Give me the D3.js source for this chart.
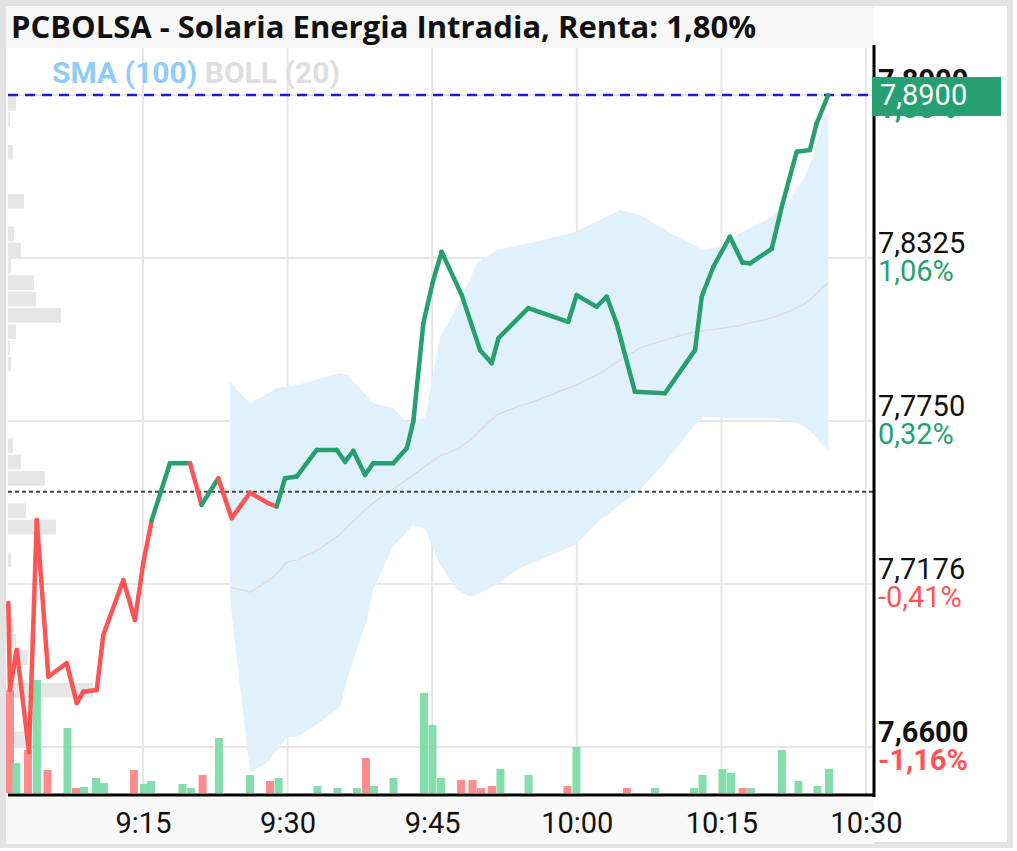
<!DOCTYPE html>
<html>
<head>
<meta charset="utf-8">
<script src="https://cdn.jsdelivr.net/npm/d3@7"></script>
<style>
  body { margin: 0; background: #fff; }
  svg { display: block; }
</style>
</head>
<body>
<script>
// intraday price ticks
const priceTimes = ["9:01:02","9:01:12","9:01:54","9:03:11","9:03:59","9:05:11","9:07:05","9:08:08","9:08:49","9:10:12",
  "9:10:53","9:12:58","9:14:10","9:15:02","9:15:55","9:17:48","9:19:53","9:21:05","9:22:49","9:24:12",
  "9:26:06","9:28:00","9:28:52","9:29:44","9:30:57","9:33:01","9:35:06","9:35:58","9:36:49","9:38:02",
  "9:38:53","9:40:58","9:42:22","9:43:03","9:44:05","9:45:07","9:45:59","9:48:04","9:49:58","9:51:11",
  "9:51:52","9:54:58","9:59:07","9:59:59","10:02:04","10:03:06","10:04:08","10:06:02","10:09:09","10:12:16",
  "10:12:58","10:14:10","10:15:53","10:17:11","10:17:58","10:20:13","10:21:16","10:22:49","10:24:11","10:24:53",
  "10:26:05"];
const prices = [7.7108,7.6801,7.6942,7.6582,7.7401,7.6848,7.6896,7.6755,7.6795,7.6801,
  7.6995,7.7189,7.7048,7.7249,7.7401,7.7601,7.7601,7.7454,7.7548,7.7407,
  7.7497,7.7460,7.7448,7.7548,7.7554,7.7648,7.7648,7.7606,7.7645,7.7560,
  7.7601,7.7601,7.7654,7.7748,7.8095,7.8247,7.8347,7.8194,7.8000,7.7954,
  7.8042,7.8148,7.8100,7.8194,7.8153,7.8189,7.8095,7.7853,7.7848,7.8000,
  7.8189,7.8294,7.8400,7.8309,7.8306,7.8357,7.8506,7.8700,7.8706,7.8800,
  7.8900];

// bollinger (20)
const bollTimes = ["9:24:02","9:26:06","9:27:52","9:28:54","9:29:56","9:30:59","9:33:22","9:35:26","9:36:16","9:38:14",
  "9:38:52","9:40:56","9:42:23","9:43:01","9:44:16","9:45:49","9:47:35","9:48:56","9:49:39","9:51:44",
  "9:54:07","9:55:28","9:59:49","10:02:25","10:04:29","10:06:34","10:09:22","10:12:04","10:13:06","10:14:52",
  "10:16:56","10:20:22","10:22:07","10:23:28","10:24:31","10:25:40","10:26:05"];
const bollUpper = [7.7888,7.7813,7.7845,7.7866,7.7872,7.7877,7.7900,7.7919,7.7912,7.7837,
  7.7813,7.7796,7.7746,7.7752,7.7764,7.8046,7.8152,7.8253,7.8307,7.8353,
  7.8371,7.8381,7.8418,7.8459,7.8494,7.8477,7.8420,7.8372,7.8353,7.8364,
  7.8413,7.8473,7.8530,7.8600,7.8681,7.8822,7.8837];
const bollMiddle = [7.7164,7.7147,7.7183,7.7212,7.7253,7.7260,7.7300,7.7349,7.7378,7.7442,
  7.7460,7.7511,7.7542,7.7558,7.7591,7.7627,7.7650,7.7682,7.7705,7.7772,
  7.7804,7.7818,7.7875,7.7918,7.7965,7.8008,7.8038,7.8063,7.8068,7.8076,
  7.8087,7.8115,7.8138,7.8160,7.8187,7.8226,7.8237];
const bollLower = [7.7119,7.6512,7.6544,7.6587,7.6635,7.6635,7.6688,7.6741,7.6847,7.7048,
  7.7154,7.7306,7.7360,7.7383,7.7368,7.7241,7.7156,7.7129,7.7138,7.7172,
  7.7231,7.7250,7.7313,7.7401,7.7454,7.7507,7.7612,7.7729,7.7764,7.7762,
  7.7761,7.7761,7.7752,7.7734,7.7703,7.7660,7.7648];

// volume per trade
const volTimes = ["9:01:12","9:01:52","9:03:04","9:04:00","9:05:06","9:07:10","9:08:03","9:08:53","9:10:08","9:10:57",
  "9:14:04","9:15:06","9:15:50","9:19:06","9:19:59","9:21:11","9:22:53","9:26:06","9:28:11","9:29:04",
  "9:33:06","9:35:11","9:37:12","9:38:08","9:38:58","9:40:59","9:44:09","9:45:02","9:45:55","9:48:00",
  "9:49:11","9:50:04","9:51:12","9:52:05","9:55:00","9:59:02","9:59:58","10:05:13","10:08:07","10:12:10",
  "10:13:03","10:15:07","10:16:00","10:17:12","10:18:04","10:21:17","10:23:00","10:24:58","10:26:10"];
const volumes = [10300,3000,4300,11300,2300,6500,500,600,1500,1000,
  2300,900,1200,900,500,1800,5500,1800,1200,1500,
  700,500,500,3500,700,1500,10000,6800,1500,1300,
  1300,500,700,2400,1800,700,4600,500,500,500,
  1800,2400,2000,500,500,4300,1200,700,2400];
const volUp = [0,1,0,1,0,1,0,1,1,1,
  0,1,1,1,1,0,1,1,0,1,
  1,1,1,0,1,1,1,1,1,0,
  0,0,0,1,1,0,1,0,1,1,
  1,1,1,0,1,1,1,1,1];

// volume by price (bin top price)
const profilePrices = [7.89,7.88425,7.87275,7.8555,7.844,7.83825,7.8325,7.82675,7.821,7.81525,
  7.8095,7.80375,7.798,7.76925,7.7635,7.75775,7.74625,7.7405,7.729,7.706,
  7.70025,7.6945,7.683,7.66575];
const profileVolumes = [800,200,500,1600,600,1300,300,2600,2800,5300,
  800,200,300,500,1300,3700,1800,4800,300,600,
  800,2000,8500,1900];
const profileStep = 0.00575;

const timeTicks = ["9:15:00","9:30:00","9:45:00","10:00:00","10:15:00","10:30:00"];
const priceTicks = [7.66, 7.7175, 7.775, 7.8325, 7.89];
const priceTickLabels = ["7,6600","7,7176","7,7750","7,8325","7,8900"];
const pctTickLabels = ["-1,16%","-0,41%","0,32%","1,06%","1,80%"];

const prevClose = 7.75;
const lastPrice = 7.89;
const lastLabel = "7,8900";

function main(){
    const W = 1017, H = 851;
    const left = 8, right = 874, top = 48, bottom = 795;
    const green = "#27a06f", red = "#ff5454";
    const parse = d3.timeParse("%H:%M:%S");

    const svg = d3.select("body").append("svg")
        .attr("width", W)
        .attr("height", H);

    const x = d3.scaleTime()
        .domain([parse("9:01:00"), parse("10:30:50")])
        .range([left, right]);
    const y = d3.scaleLinear()
        .domain([7.66, 7.89])
        .range([747, 95]);
    const vol = d3.scaleLinear().domain([0, 10000]).range([0, 100]);
    const prof = d3.scaleLinear().domain([0, 10000]).range([0, 100]);

    // frame and bands
    svg.append("rect").attr("x", 3).attr("y", 3).attr("width", 1007).attr("height", 842)
        .attr("fill", "#fff").attr("stroke", "#e3e3e3").attr("stroke-width", 6);
    svg.append("rect").attr("x", 6).attr("y", 6).attr("width", right - 6).attr("height", top - 6)
        .attr("fill", "#f7f7f7");
    svg.append("rect").attr("x", 6).attr("y", bottom + 2).attr("width", right - 6).attr("height", 47)
        .attr("fill", "#f8f8f8");

    svg.append("text")
        .attr("x", 11).attr("y", 38)
        .attr("font-family", "Open Sans").attr("font-weight", "bold").attr("font-size", "31px")
        .attr("fill", "#111")
        .text("PCBOLSA - Solaria Energia Intradia, Renta: 1,80%");

    const g = svg.append("g");

    // grid
    g.selectAll(".vgrid").data(timeTicks).join("line")
        .attr("x1", d => x(parse(d))).attr("x2", d => x(parse(d)))
        .attr("y1", top).attr("y2", bottom)
        .attr("stroke", "#e6e6e6").attr("stroke-width", 2);
    g.selectAll(".hgrid").data(priceTicks).join("line")
        .attr("x1", left).attr("x2", right)
        .attr("y1", d => y(d)).attr("y2", d => y(d))
        .attr("stroke", "#e6e6e6").attr("stroke-width", 2);

    // bollinger band
    const boll = bollTimes.map((t, i) => ({t: parse(t), u: bollUpper[i], m: bollMiddle[i], l: bollLower[i]}));
    g.append("path").datum(boll)
        .attr("fill", "#e1f1fc")
        .attr("d", d3.area().x(d => x(d.t)).y0(d => y(d.l)).y1(d => y(d.u)));
    g.append("path").datum(boll)
        .attr("fill", "none").attr("stroke", "#dcdcdc").attr("stroke-width", 1.5)
        .attr("d", d3.line().x(d => x(d.t)).y(d => y(d.m)));

    // volume profile
    g.selectAll(".prof").data(profilePrices).join("rect")
        .attr("x", left)
        .attr("y", d => y(d) + 1)
        .attr("width", (d, i) => prof(profileVolumes[i]))
        .attr("height", d => y(d - profileStep) - y(d) - 1.5)
        .attr("fill", "#e6e6e6");

    // volume bars
    g.selectAll(".vol").data(volTimes).join("rect")
        .attr("x", d => x(parse(d)) - 4)
        .attr("y", (d, i) => 793 - vol(volumes[i]))
        .attr("width", 8)
        .attr("height", (d, i) => vol(volumes[i]))
        .attr("fill", (d, i) => volUp[i] ? "#7cdca6" : "#ff8585")
        .attr("opacity", 0.95);

    // reference lines
    g.append("line")
        .attr("x1", left).attr("x2", right).attr("y1", y(prevClose)).attr("y2", y(prevClose))
        .attr("stroke", "#444").attr("stroke-width", 2).attr("stroke-dasharray", "4,3");
    g.append("line")
        .attr("x1", left).attr("x2", right).attr("y1", y(lastPrice)).attr("y2", y(lastPrice))
        .attr("stroke", "#1a1aee").attr("stroke-width", 2.5).attr("stroke-dasharray", "10,7");

    // price line, coloured by where each step ends
    const pts = priceTimes.map((t, i) => ({t: parse(t), p: prices[i]}));
    const seg = d3.line().x(d => x(d.t)).y(d => y(d.p));
    g.selectAll(".seg").data(d3.pairs(pts)).join("path")
        .attr("d", d => seg(d))
        .attr("fill", "none")
        .attr("stroke", d => d[1].p >= prevClose ? green : red)
        .attr("stroke-width", 4.5)
        .attr("stroke-linecap", "round")
        .attr("stroke-linejoin", "round");

    // axes
    svg.append("line").attr("x1", right).attr("x2", right).attr("y1", 45).attr("y2", bottom + 2)
        .attr("stroke", "#000").attr("stroke-width", 3);
    svg.append("line").attr("x1", left).attr("x2", right + 1).attr("y1", bottom).attr("y2", bottom)
        .attr("stroke", "#000").attr("stroke-width", 3);

    svg.append("g")
        .attr("transform", "translate(0," + (bottom + 2) + ")")
        .call(d3.axisBottom(x).tickValues(timeTicks.map(parse)).tickFormat(d3.timeFormat("%-H:%M")).tickSize(0).tickPadding(15))
        .call(a => a.select(".domain").remove())
        .selectAll("text")
            .attr("font-family", "Roboto").attr("font-size", "29px").attr("fill", "#111");

    // right price labels
    const lab = svg.append("g").attr("font-family", "Roboto").attr("font-size", "29px");
    priceTicks.forEach((p, i) => {
        const bold = i === 0 || i === priceTicks.length - 1;
        lab.append("text").attr("x", 878).attr("y", y(p) - 5)
            .attr("font-weight", bold ? "bold" : "normal").attr("fill", "#111")
            .text(priceTickLabels[i]);
        lab.append("text").attr("x", 878).attr("y", y(p) + 23)
            .attr("font-weight", bold ? "bold" : "normal")
            .attr("fill", p >= prevClose ? green : red)
            .text(pctTickLabels[i]);
    });

    // last price tag
    svg.append("rect").attr("x", 872).attr("y", y(lastPrice) - 18).attr("width", 129).attr("height", 39)
        .attr("fill", "#26a073");
    svg.append("text").attr("x", 880).attr("y", y(lastPrice) + 10)
        .attr("font-family", "Roboto").attr("font-size", "29px").attr("fill", "#fff")
        .text(lastLabel);

    // legend
    const leg = svg.append("text").attr("x", 52).attr("y", 83)
        .attr("font-family", "Roboto").attr("font-weight", "bold").attr("font-size", "30px");
    leg.append("tspan").attr("fill", "#90cbf9").text("SMA (100) ");
    leg.append("tspan").attr("fill", "#dedede").text("BOLL (20)");
}
main();
</script>
</body>
</html>
